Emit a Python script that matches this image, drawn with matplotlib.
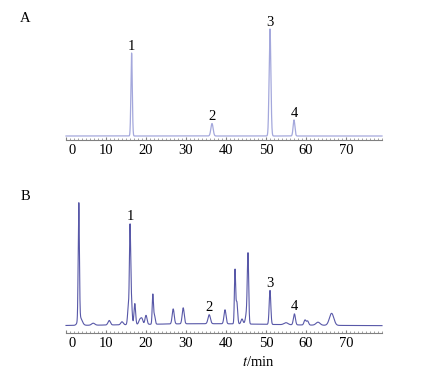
import numpy as np
import matplotlib.pyplot as plt
from matplotlib.ticker import MultipleLocator
import matplotlib.transforms as mtrans

plt.rcParams['font.family'] = ['Liberation Serif', 'DejaVu Serif']
plt.rcParams['mathtext.fontset'] = 'stix'

# panel A: standards (retention time min, height, sigma min)
stdTimes = [16.4, 36.5, 51.0, 57.0]
stdHeights = [83, 12.5, 107, 16]
stdSigmas = [0.17, 0.28, 0.22, 0.22]
stdLabels = ['1', '2', '3', '4']

# panel B: sample
smpTimes = [3.2, 3.5, 6.8, 10.8, 14.0, 15.6, 16.0, 16.3, 17.2, 18.5, 19.0, 20.0,
            21.7, 22.1, 26.8, 29.3, 35.8, 39.75, 42.25, 42.7, 44.0, 45.2, 45.5,
            51.0, 55.0, 57.1, 59.75, 60.4, 63.0, 66.4, 35.0]
smpHeights = [116, 8, 2, 4.5, 3, 18, 89, 28, 21, 5, 5, 9,
              29, 9, 15, 16, 9, 14, 53, 22, 5, 12, 64,
              34, 2, 11, 5, 4, 3, 12, 2]
smpSigmas = [0.15, 0.5, 0.4, 0.3, 0.3, 0.2, 0.15, 0.2, 0.2, 0.3, 0.25, 0.25,
             0.15, 0.2, 0.25, 0.25, 0.3, 0.25, 0.15, 0.2, 0.25, 0.3, 0.17,
             0.2, 0.5, 0.25, 0.25, 0.25, 0.5, 0.55, 17]
peakIdx = [6, 16, 23, 25]  # which sample peaks carry labels 1-4

t = np.linspace(0, 79, 12000)


def trace(times, heights, sigmas):
    y = np.zeros_like(t)
    for m, h, s in zip(times, heights, sigmas):
        y += h * np.exp(-0.5 * ((t - m) / s) ** 2)
    return y


yA = trace(stdTimes, stdHeights, stdSigmas)
yB = trace(smpTimes, smpHeights, smpSigmas)


def top(y, m):
    return y[np.abs(t - m) < 0.4].max()


fig = plt.figure(figsize=(4.27, 3.82), dpi=100)
axA = fig.add_axes([66 / 427, 242 / 382, 316 / 427, 120 / 382])
axB = fig.add_axes([66 / 427, 49.3 / 382, 316 / 427, 137.7 / 382])


def style(ax):
    for s in ['top', 'left', 'right']:
        ax.spines[s].set_visible(False)
    ax.spines['bottom'].set_color('#808080')
    ax.spines['bottom'].set_linewidth(0.8)
    ax.set_xlim(0, 79)
    ax.xaxis.set_major_locator(MultipleLocator(10))
    ax.xaxis.set_minor_locator(MultipleLocator(1))
    ax.tick_params(axis='x', which='major', direction='in', length=2.5, color='#808080',
                   labelsize=10.5, pad=3)
    ax.tick_params(axis='x', which='minor', direction='in', length=1.2, color='#909090')
    ax.set_yticks([])
    ax.set_xticks(np.arange(0, 80, 10))
    lbl = ax.get_xticklabels()
    lbl[0].set_transform(lbl[0].get_transform() +
                         mtrans.ScaledTranslation(6 / 100, 0, fig.dpi_scale_trans))


axA.plot(t, yA, color='#a4a8dc', lw=0.9, clip_on=False)
axA.set_ylim(-4, 116)
style(axA)
for m, s in zip(stdTimes, stdLabels):
    axA.text(m, top(yA, m) + 0.5, s, ha='center', va='bottom', fontsize=10.5)

axB.plot(t, yB, color='#5858a8', lw=0.8, clip_on=False)
axB.set_ylim(-7, 130.7)
style(axB)
for i, s in zip(peakIdx, stdLabels):
    m = smpTimes[i]
    axB.text(m, top(yB, m) + 0.5, s, ha='center', va='bottom', fontsize=10.5)
axB.set_xlabel(r'$t$/min', fontsize=10.5, labelpad=3)
axB.xaxis.set_label_coords((258 - 66) / 316, -0.16)

fig.text(25 / 427, 1 - 18 / 382, 'A', ha='center', va='center', fontsize=10.5)
fig.text(25 / 427, 1 - 196 / 382, 'B', ha='center', va='center', fontsize=10.5)

fig.savefig('out.png', dpi=100)
